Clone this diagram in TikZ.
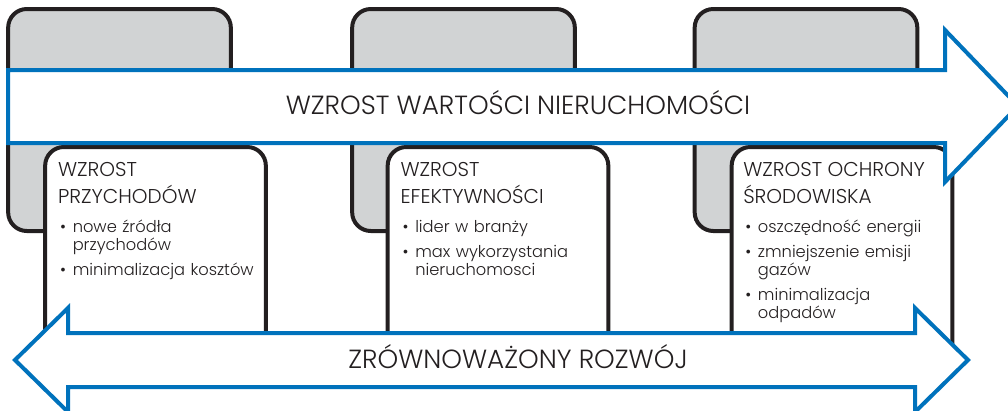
\documentclass[tikz,border=0pt]{standalone}
\usepackage{fontspec}
\IfFontExistsTF{Poppins Light}{\setmainfont{Poppins Light}}{\setmainfont{Poppins}}
\usetikzlibrary{positioning}

\definecolor{niebieski}{RGB}{0,114,188}
\definecolor{szary}{RGB}{209,211,212}
\definecolor{czarny}{RGB}{35,31,32}

% punkt listy, kolejne wiersze wciete
\newcommand{\punkt}[1]{\par\vspace{5.5pt}\noindent\makebox[11pt][l]{\hspace{1.5pt}\textbullet}%
  \parbox[t]{150pt}{\raggedright #1}}
\newcommand{\tytul}{\fontsize{15}{20}\selectfont}

\tikzset{
  szara/.style={draw=czarny, fill=szary, line width=3pt, rounded corners=14pt,
    minimum width=167pt, minimum height=166.5pt, inner sep=0pt},
  biala/.style={draw=czarny, fill=white, line width=3pt, rounded corners=14pt,
    minimum width=165.5pt, minimum height=174.75pt, inner sep=0pt},
  opis/.style={inner sep=0pt, text width=160pt, align=left, text=czarny,
    font=\fontsize{12.2}{13.5}\selectfont},
  strzalka/.style={draw=niebieski, fill=white, line width=3pt, line join=miter},
  haslo/.style={inner sep=0pt, text=czarny, font=\fontsize{19.7}{23}\selectfont}
}

\begin{document}
\begin{tikzpicture}[x=0.75pt,y=-0.75pt]
\useasboundingbox (0,0) rectangle (1008,411);

% szare karty w tle
\node[szara] (s1) at (119.5,120) {};
\node[szara] (s2) at (463.5,120) {};
\node[szara] (s3) at (806,120) {};

% biale karty z opisem
\node[biala] (b1) at (155.5,263.5) {};
\node[biala] (b2) at (498,263.5) {};
\node[biala] (b3) at (842,263.5) {};

\node[opis, below right=12.75pt and 11pt of b1.north west] (t1) {%
  {\tytul WZROST\\PRZYCHODÓW\par}\vspace{2.75pt}
  \punkt{nowe źródła\\przychodów}
  \punkt{minimalizacja kosztów}};
\node[opis, below right=12.75pt and 11pt of b2.north west] (t2) {%
  {\tytul WZROST\\EFEKTYWNOŚCI\par}\vspace{2.75pt}
  \punkt{lider w branży}
  \punkt{max wykorzystania\\nieruchomosci}};
\node[opis, below right=12.75pt and 10pt of b3.north west] (t3) {%
  {\tytul WZROST OCHRONY\\ŚRODOWISKA\par}\vspace{2.75pt}
  \punkt{oszczędność energii}
  \punkt{zmniejszenie emisji\\gazów}
  \punkt{minimalizacja\\odpadów}};

% strzalka gorna
\draw[strzalka] (8,70) -- (945,70) -- (945,30) -- (1018,106) -- (945,182)
  -- (945,143) -- (8,143) -- cycle;
\node[haslo, anchor=base] (wartosc) at (518,114) {WZROST WARTOŚCI NIERUCHOMOŚCI};

% strzalka dolna
\draw[strzalka] (15,360) -- (68,308) -- (68,333) -- (915,333) -- (915,308)
  -- (968,360) -- (915,412) -- (915,387) -- (68,387) -- (68,412) -- cycle;
\node[haslo, anchor=base] (rozwoj) at (518,368) {ZRÓWNOWAŻONY ROZWÓJ};
\end{tikzpicture}
\end{document}
